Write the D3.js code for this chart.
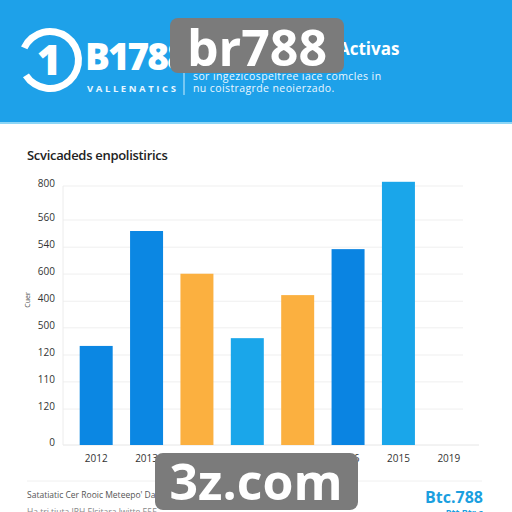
<!DOCTYPE html>
<html>
<head>
<meta charset="utf-8">
<script src="https://cdn.jsdelivr.net/npm/d3@7"></script>
<style>
  body { margin: 0; background: #fff; }
  svg { display: block; font-family: "Open Sans", sans-serif; }
</style>
</head>
<body>
<script>
// chart data
const years = ["2012", "2013", "2014", "2017", "2018", "2016", "2015", "2019"];
const values = [306, 661, 529, 330, 463, 605, 813, 0];
const barColors = ["#0b87e3", "#0b87e3", "#fbb040", "#1aa6ea", "#fbb040", "#0a84e2", "#1aa6ea", "#1aa6ea"];
const tickValues = [0, 111, 195, 278, 362, 444, 528, 611, 695, 800];
const tickLabels = ["0", "120", "110", "120", "500", "400", "600", "540", "560", "800"];

const width = 512, height = 512;

const svg = d3.select("body").append("svg")
  .attr("width", width)
  .attr("height", height);

// header band
svg.append("rect").attr("x", 0).attr("y", 0).attr("width", width).attr("height", 122).attr("fill", "#1ea1e9");
svg.append("rect").attr("x", 0).attr("y", 122).attr("width", width).attr("height", 2).attr("fill", "#8dd6f6");

// logo ring with the "1"
const ring = d3.arc().innerRadius(25).outerRadius(32).startAngle(-0.36 * Math.PI).endAngle(1.32 * Math.PI);
svg.append("path").attr("d", ring()).attr("transform", "translate(50,60)").attr("fill", "#fff");
svg.append("text").attr("x", 49).attr("y", 75).attr("text-anchor", "middle")
  .attr("font-size", 42).attr("font-weight", 800).attr("fill", "#fff").text("1");

svg.append("text").attr("x", 85).attr("y", 70).attr("font-size", 37).attr("font-weight", 800)
  .attr("fill", "#fff").attr("letter-spacing", -2).text("B1788");
svg.append("text").attr("x", 87).attr("y", 92).attr("font-size", 9.5).attr("font-weight", 700)
  .attr("fill", "#e8f6ff").attr("letter-spacing", 2.6).text("VALLENATICS");
svg.append("line").attr("x1", 184).attr("x2", 184).attr("y1", 72).attr("y2", 95)
  .attr("stroke", "#cdeefd").attr("stroke-width", 1);

svg.append("text").attr("x", 338).attr("y", 55).attr("font-size", 17).attr("font-weight", 700)
  .attr("fill", "#fff").text("Activas");
svg.append("text").attr("x", 193).attr("y", 80).attr("font-size", 10.5).attr("letter-spacing", 0.4)
  .attr("fill", "#eaf7ff").text("sor ingezicospeltree iace comcles in");
svg.append("text").attr("x", 193).attr("y", 92).attr("font-size", 10.5).attr("letter-spacing", 0.4)
  .attr("fill", "#eaf7ff").text("nu coistragrde neoierzado.");

// chart title
svg.append("text").attr("x", 27).attr("y", 160).attr("font-size", 13).attr("font-weight", 600)
  .attr("fill", "#222").attr("letter-spacing", -0.3).text("Scvicadeds enpolistirics");

// scales
const x = d3.scaleBand().domain(d3.range(years.length)).range([71, 474])
  .paddingInner(0.345).paddingOuter(0.1725);
const y = d3.scaleLinear().domain([0, 800]).range([445, 186]);

// grid
svg.append("g").selectAll("line").data(tickValues.slice(1)).join("line")
  .attr("x1", 63).attr("x2", 463)
  .attr("y1", d => y(d)).attr("y2", d => y(d))
  .attr("stroke", "#efefef").attr("stroke-width", 1);
svg.append("line").attr("x1", 63).attr("x2", 479).attr("y1", y(0)).attr("y2", y(0))
  .attr("stroke", "#e6e6e6");
svg.append("line").attr("x1", 63).attr("x2", 63).attr("y1", y(800)).attr("y2", y(0))
  .attr("stroke", "#ececec");

// y axis labels
const yAxis = d3.axisLeft(y).tickValues(tickValues).tickSize(0).tickPadding(0)
  .tickFormat((d, i) => tickLabels[i]);
svg.append("g").attr("transform", "translate(55,-3)").call(yAxis)
  .call(g => g.select(".domain").remove())
  .call(g => g.selectAll("text").attr("font-size", 10).attr("fill", "#333")
    .attr("font-family", "'Open Sans', sans-serif"));

svg.append("text").attr("transform", "translate(30,300) rotate(-90)")
  .attr("text-anchor", "middle").attr("font-size", 7).attr("fill", "#444").text("Cuer");

// bars
svg.append("g").selectAll("rect").data(values).join("rect")
  .attr("x", (d, i) => x(i))
  .attr("width", x.bandwidth())
  .attr("y", d => y(d))
  .attr("height", d => y(0) - y(d))
  .attr("fill", (d, i) => barColors[i]);

// x axis labels
const xAxis = d3.axisBottom(x).tickSize(0).tickPadding(0).tickFormat(i => years[i]);
svg.append("g").attr("transform", "translate(0,455)").call(xAxis)
  .call(g => g.select(".domain").remove())
  .call(g => g.selectAll("text").attr("font-size", 10).attr("fill", "#333")
    .attr("font-family", "'Open Sans', sans-serif"));

// footer
svg.append("line").attr("x1", 27).attr("x2", 482).attr("y1", 481).attr("y2", 481)
  .attr("stroke", "#f0f0f0");
svg.append("text").attr("x", 27).attr("y", 498).attr("font-size", 8.5).attr("fill", "#555")
  .text("Satatiatic Cer Rooic Meteepo' Data");
svg.append("text").attr("x", 27).attr("y", 515).attr("font-size", 8.5).attr("fill", "#888")
  .text("Ha tri tiuta  JRH Elsitara  lwitte E5E");
svg.append("text").attr("x", 483).attr("y", 503).attr("text-anchor", "end").attr("font-size", 16)
  .attr("font-weight", 700).attr("fill", "#1b9fdf").text("Btc.788");
svg.append("text").attr("x", 483).attr("y", 516).attr("text-anchor", "end").attr("font-size", 9)
  .attr("font-weight", 700).attr("fill", "#1b9fdf").text("Rtt Btr.c");

// watermark boxes
svg.append("rect").attr("x", 170).attr("y", 18).attr("width", 174).attr("height", 55).attr("rx", 8)
  .attr("fill", "#7b7b7b");
svg.append("text").attr("x", 257).attr("y", 66).attr("text-anchor", "middle").attr("font-size", 50)
  .attr("font-weight", 700).attr("fill", "#fff").text("br788");
svg.append("rect").attr("x", 155).attr("y", 453).attr("width", 203).attr("height", 57).attr("rx", 8)
  .attr("fill", "#7b7b7b");
svg.append("text").attr("x", 256).attr("y", 500).attr("text-anchor", "middle").attr("font-size", 50)
  .attr("font-weight", 700).attr("fill", "#fff").text("3z.com");
</script>
</body>
</html>
